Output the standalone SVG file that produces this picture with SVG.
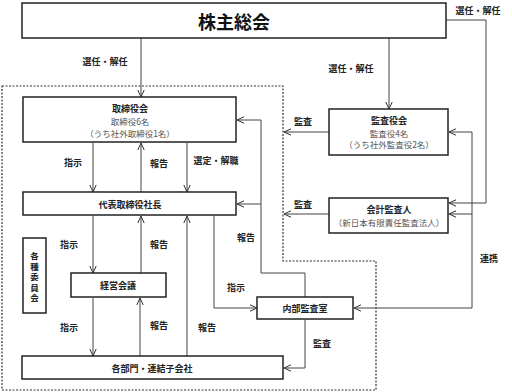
<svg xmlns="http://www.w3.org/2000/svg" width="512" height="392" viewBox="0 0 512 392">
<defs>
<marker id="ah" viewBox="0 0 8 8" refX="7.5" refY="4" markerWidth="8" markerHeight="8" markerUnits="userSpaceOnUse" orient="auto-start-reverse">
<path d="M0.5,0.8 L7.5,4 L0.5,7.2" fill="none" stroke="#333" stroke-width="1"/>
</marker>
<style>
.box{fill:#fff;stroke:#222;stroke-width:1.5}
.ln{fill:none;stroke:#444;stroke-width:1}
.dash{fill:none;stroke:#333;stroke-width:1.2;stroke-dasharray:2 1.5}
text{font-family:"Noto Sans CJK JP","Noto Sans",sans-serif;text-anchor:middle;dominant-baseline:central}
.t{font-size:9px;font-weight:bold;fill:#222}
.v{font-size:8.5px;font-weight:bold;fill:#222}
.s{font-size:8.5px;fill:#555}
.lb{font-size:9px;font-weight:bold;fill:#222}
</style>
</defs>
<rect width="512" height="392" fill="#fff"/>
<path class="dash" d="M2,86 H283 V261 H376 V390 H2 Z"/>
<g id="connectors">
<path class="ln" d="M141,38 V97" marker-end="url(#ah)"/>
<path class="ln" d="M389,38 V109" marker-end="url(#ah)"/>
<path class="ln" d="M446,20 H486 V203 H449" marker-end="url(#ah)"/>
<path class="ln" d="M329,132 H284" marker-end="url(#ah)"/>
<path class="ln" d="M329,214 H284" marker-end="url(#ah)"/>
<path class="ln" d="M354,308 H472 V132 H449" marker-start="url(#ah)" marker-end="url(#ah)"/>
<path class="ln" d="M472,214 H449" marker-end="url(#ah)"/>
<path class="ln" d="M93,143 V192" marker-end="url(#ah)"/>
<path class="ln" d="M141,192 V143" marker-end="url(#ah)"/>
<path class="ln" d="M187,143 V192" marker-end="url(#ah)"/>
<path class="ln" d="M305,297 V273 H261 V120 H237" marker-end="url(#ah)"/>
<path class="ln" d="M261,204 H237" marker-end="url(#ah)"/>
<path class="ln" d="M93,216 V273" marker-end="url(#ah)"/>
<path class="ln" d="M141,273 V216" marker-end="url(#ah)"/>
<path class="ln" d="M187,356 V216" marker-end="url(#ah)"/>
<path class="ln" d="M214,216 V308 H257" marker-end="url(#ah)"/>
<path class="ln" d="M93,298 V356" marker-end="url(#ah)"/>
<path class="ln" d="M140,356 V298" marker-end="url(#ah)"/>
<path class="ln" d="M305,320 V368 H284" marker-end="url(#ah)"/>
<text class="lb" x="105" y="61">選任・解任</text>
<text class="lb" x="351" y="68">選任・解任</text>
<text class="lb" x="478" y="10">選任・解任</text>
<text class="lb" x="303" y="121">監査</text>
<text class="lb" x="303" y="204">監査</text>
<text class="lb" x="489" y="258">連携</text>
<text class="lb" x="73" y="162">指示</text>
<text class="lb" x="159" y="163">報告</text>
<text class="lb" x="216" y="160">選定・解職</text>
<text class="lb" x="246" y="237">報告</text>
<text class="lb" x="69" y="244">指示</text>
<text class="lb" x="159" y="244">報告</text>
<text class="lb" x="236" y="287">指示</text>
<text class="lb" x="69" y="327">指示</text>
<text class="lb" x="159" y="325">報告</text>
<text class="lb" x="207" y="327">報告</text>
<text class="lb" x="322" y="343">監査</text>
</g>
<g id="shareholders">
<rect class="box" x="22" y="3" width="424" height="35"/>
<text x="234" y="21" style="font-size:18px;font-weight:bold;fill:#111">株主総会</text>
</g>
<g id="board">
<rect class="box" x="23" y="97" width="213" height="45"/>
<text class="t" x="130" y="108">取締役会</text>
<text class="s" x="130" y="121">取締役6名</text>
<text class="s" x="130" y="133">（うち社外取締役1名）</text>
</g>
<g id="president">
<rect class="box" x="23" y="192" width="213" height="23"/>
<text class="t" x="130" y="204">代表取締役社長</text>
</g>
<g id="auditors">
<rect class="box" x="329" y="109" width="119" height="46"/>
<text class="t" x="389" y="120.5">監査役会</text>
<text class="s" x="389" y="132.5">監査役4名</text>
<text class="s" x="389" y="144">（うち社外監査役2名）</text>
</g>
<g id="accounting-auditor">
<rect class="box" x="329" y="198" width="119" height="35"/>
<text class="t" x="389" y="209">会計監査人</text>
<text class="s" x="389" y="222">（新日本有限責任監査法人）</text>
</g>
<g id="committees">
<rect class="box" x="23" y="238" width="23" height="75"/>
<text class="v" x="34.5" y="255">各</text>
<text class="v" x="34.5" y="265.5">種</text>
<text class="v" x="34.5" y="276">委</text>
<text class="v" x="34.5" y="286.5">員</text>
<text class="v" x="34.5" y="297">会</text>
</g>
<g id="management-meeting">
<rect class="box" x="71" y="273" width="95" height="24"/>
<text class="t" x="118" y="285">経営会議</text>
</g>
<g id="internal-audit">
<rect class="box" x="257" y="297" width="96" height="22"/>
<text class="t" x="305" y="308">内部監査室</text>
</g>
<g id="departments">
<rect class="box" x="22" y="356" width="261" height="23"/>
<text class="t" x="152" y="368">各部門・連結子会社</text>
</g>
</svg>
